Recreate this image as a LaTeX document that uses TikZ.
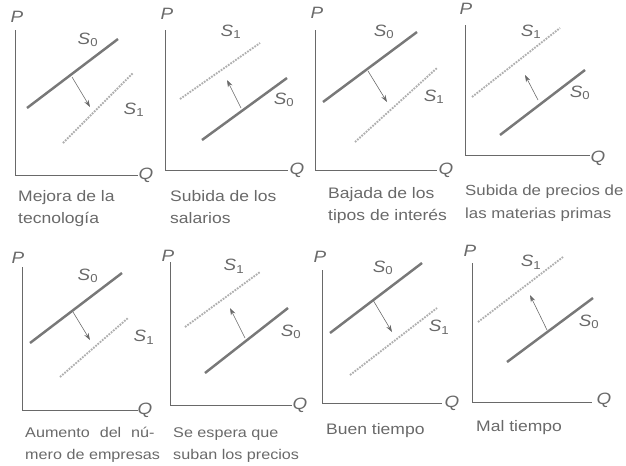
\documentclass[tikz,border=0pt]{standalone}
\usepackage{fontspec}
\setmainfont{Liberation Sans}[FakeStretch=1.15]
\usetikzlibrary{arrows.meta}
\definecolor{inkgray}{RGB}{105,105,105}
\definecolor{linegray}{RGB}{120,120,120}
\definecolor{palegray}{RGB}{175,175,175}
\newcommand{\Szero}{\textit{S}\textsubscript{0}}
\newcommand{\Sone}{\textit{S}\textsubscript{1}}
\begin{document}
\begin{tikzpicture}[
    x=0.03cm, y=-0.03cm,
    every node/.append style = {font=\fontsize{14}{17}\selectfont, text=inkgray},
    axisline/.style = {draw=inkgray, line width=0.8pt},
    curvezero/.style = {draw=linegray, line width=2.1pt},
    curveone/.style = {draw=palegray, line width=1.6pt, dash pattern=on 1.5pt off 1pt},
    shiftarrow/.style = {draw=inkgray, line width=0.5pt, -{Stealth[length=6pt,width=4pt]}},
    caption/.style = {anchor=north west, align=left, inner sep=0pt,
      font=\fontsize{13}{19}\selectfont},
    smallcaption/.style = {caption, font=\fontsize{12}{19}\selectfont}
  ]
 \useasboundingbox (0,0) rectangle (626,465);

 % Mejora de la tecnologia
 \draw[axisline] (15,30) -- (15,175) -- (138,175);
 \node (p1) at (17,17) {\textit{P}};
 \node (q1) at (146,175) {\textit{Q}};
 \draw[curvezero] (27,108) -- (118,39);
 \draw[curveone] (63,143) -- (133,73);
 \draw[shiftarrow] (72,77) -- (90,107);
 \node (s0a) at (88,40) {\Szero};
 \node (s1a) at (134,110) {\Sone};
 \node[caption] (c1) at (18,190) {Mejora de la\\tecnología};

 % Subida de los salarios
 \draw[axisline] (165,30) -- (165,170) -- (288,170);
 \node (p2) at (167,14) {\textit{P}};
 \node (q2) at (297,170) {\textit{Q}};
 \draw[curvezero] (202,140) -- (287,78);
 \draw[curveone] (180,99) -- (260,43);
 \draw[shiftarrow] (241,108) -- (227,80);
 \node (s1b) at (231,32) {\Sone};
 \node (s0b) at (284,100) {\Szero};
 \node[caption] (c2) at (170,190) {Subida de los\\salarios};

 % Bajada de los tipos de interes
 \draw[axisline] (315,30) -- (315,170) -- (437,170);
 \node (p3) at (317,13) {\textit{P}};
 \node (q3) at (446,170) {\textit{Q}};
 \draw[curvezero] (323,102) -- (417,32);
 \draw[curveone] (355,142) -- (437,68);
 \draw[shiftarrow] (368,71) -- (387,102);
 \node (s0c) at (384,32) {\Szero};
 \node (s1c) at (434,97) {\Sone};
 \node[caption] (c3) at (328,187) {Bajada de los\\tipos de interés};

 % Subida de precios de las materias primas
 \draw[axisline] (465,25) -- (465,155) -- (590,155);
 \node (p4) at (466,9) {\textit{P}};
 \node (q4) at (598,158) {\textit{Q}};
 \draw[curvezero] (500,135) -- (585,70);
 \draw[curveone] (472,97) -- (560,28);
 \draw[shiftarrow] (538,100) -- (525,75);
 \node (s1d) at (531,32) {\Sone};
 \node (s0d) at (580,93) {\Szero};
 \node[caption, font=\fontsize{12.5}{19}\selectfont] (c4) at (465,185)
   {Subida de precios de\\las materias primas};

 % Aumento del numero de empresas
 \draw[axisline] (22,267) -- (22,410) -- (138,410);
 \node (p5) at (18,258) {\textit{P}};
 \node (q5) at (145,410) {\textit{Q}};
 \draw[curvezero] (30,343) -- (122,273);
 \draw[curveone] (60,377) -- (128,318);
 \draw[shiftarrow] (73,312) -- (90,340);
 \node (s0e) at (88,276) {\Szero};
 \node (s1e) at (144,337) {\Sone};
 \node[smallcaption] (c5) at (25,427)
   {Aumento\hspace{0.7em}del\hspace{0.7em}nú-\\mero de empresas};

 % Se espera que suban los precios
 \draw[axisline] (170,262) -- (170,405) -- (292,405);
 \node (p6) at (168,256) {\textit{P}};
 \node (q6) at (300,405) {\textit{Q}};
 \draw[curvezero] (205,373) -- (288,308);
 \draw[curveone] (185,327) -- (260,272);
 \draw[shiftarrow] (245,338) -- (230,308);
 \node (s1f) at (234,266) {\Sone};
 \node (s0f) at (291,332) {\Szero};
 \node[smallcaption] (c6) at (173,427) {Se espera que\\suban los precios};

 % Buen tiempo
 \draw[axisline] (322,270) -- (322,403) -- (442,403);
 \node (p7) at (320,257) {\textit{P}};
 \node (q7) at (452,403) {\textit{Q}};
 \draw[curvezero] (330,333) -- (422,263);
 \draw[curveone] (350,375) -- (437,308);
 \draw[shiftarrow] (373,300) -- (392,332);
 \node (s0g) at (383,268) {\Szero};
 \node (s1g) at (439,327) {\Sone};
 \node[caption] (c7) at (326,423) {Buen tiempo};

 % Mal tiempo
 \draw[axisline] (472,263) -- (472,402) -- (592,402);
 \node (p8) at (470,251) {\textit{P}};
 \node (q8) at (604,400) {\textit{Q}};
 \draw[curvezero] (507,362) -- (593,298);
 \draw[curveone] (478,322) -- (563,257);
 \draw[shiftarrow] (547,330) -- (530,295);
 \node (s1h) at (531,262) {\Sone};
 \node (s0h) at (589,322) {\Szero};
 \node[caption] (c8) at (476,420) {Mal tiempo};
\end{tikzpicture}
\end{document}
